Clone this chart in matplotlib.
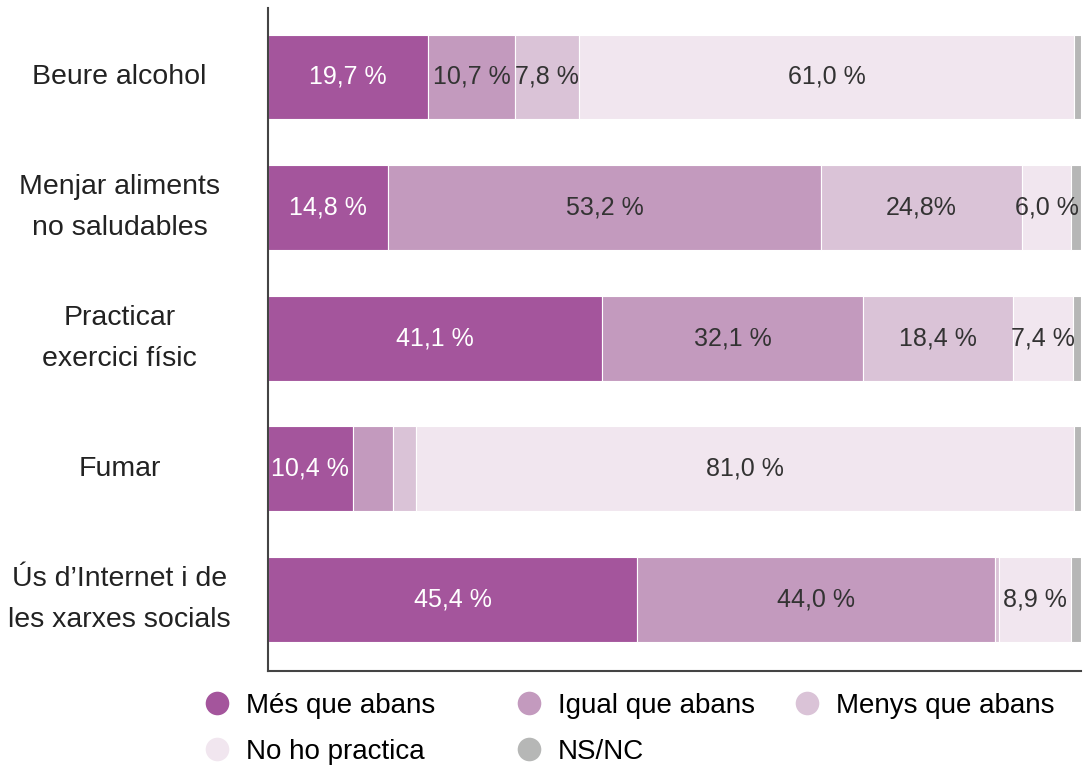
import matplotlib
matplotlib.use('Agg')
import matplotlib.pyplot as plt
from matplotlib.lines import Line2D

plt.rcParams['font.family'] = ['Liberation Sans', 'DejaVu Sans']

# Categories (top to bottom)
categories = ['Beure alcohol', 'Menjar aliments\nno saludables', 'Practicar\nexercici físic',
              'Fumar', 'Ús d\u2019Internet i de\nles xarxes socials']

# Percentages per answer
mes = [19.7, 14.8, 41.1, 10.4, 45.4]
igual = [10.7, 53.2, 32.1, 5.0, 44.0]
menys = [7.8, 24.8, 18.4, 2.8, 0.5]
no_practica = [61.0, 6.0, 7.4, 81.0, 8.9]
nsnc = [0.8, 1.2, 1.0, 0.8, 1.2]

# Text written inside each segment ('' = no label)
mes_labels = ['19,7 %', '14,8 %', '41,1 %', '10,4 %', '45,4 %']
igual_labels = ['10,7 %', '53,2 %', '32,1 %', '', '44,0 %']
menys_labels = ['7,8 %', '24,8%', '18,4 %', '', '']
no_labels = ['61,0 %', '6,0 %', '7,4 %', '81,0 %', '8,9 %']
nsnc_labels = ['', '', '', '', '']

series_names = ['Més que abans', 'Igual que abans', 'Menys que abans', 'No ho practica', 'NS/NC']
colors = ['#a4559c', '#c39abe', '#dac3d7', '#f1e6ef', '#b6b7b6']
text_colors = ['white', '#333333', '#333333', '#333333', '#333333']

series = [mes, igual, menys, no_practica, nsnc]
series_labels = [mes_labels, igual_labels, menys_labels, no_labels, nsnc_labels]

fig = plt.figure(figsize=(10.84, 7.68), dpi=100)
ax = fig.add_axes([268 / 1084, 1 - 671 / 768, (1081 - 268) / 1084, 663 / 768])

y = list(range(len(categories)))
left = [0.0] * len(categories)
for vals, labs, col, tcol in zip(series, series_labels, colors, text_colors):
    ax.barh(y, vals, left=left, height=0.65, color=col, edgecolor='white', linewidth=0.8)
    for i, (v, lab) in enumerate(zip(vals, labs)):
        if lab:
            ax.text(left[i] + v / 2, i, lab, ha='center', va='center',
                    fontsize=18, color=tcol)
    left = [l + v for l, v in zip(left, vals)]

ax.set_xlim(0, 100)
ax.set_ylim(4.547, -0.528)
ax.set_xticks([])
ax.set_yticks(y)
ax.set_yticklabels(categories, fontsize=20.5, color='#222222', linespacing=1.75)
for t in ax.get_yticklabels():
    t.set_horizontalalignment('center')
    t.set_verticalalignment('center')
ax.tick_params(axis='y', length=0, pad=107)

for s in ['top', 'right']:
    ax.spines[s].set_visible(False)
for s in ['left', 'bottom']:
    ax.spines[s].set_color('#444444')
    ax.spines[s].set_linewidth(1.5)

# Legend in three columns: (Més, No ho practica), (Igual, NS/NC), (Menys)
handles = [Line2D([], [], marker='o', linestyle='none', markersize=17,
                  markerfacecolor=c, markeredgecolor='none') for c in colors]
columns = [([0, 3], 203), ([1, 4], 515), ([2], 793)]
for idx, x0 in columns:
    fig.legend([handles[i] for i in idx], [series_names[i] for i in idx],
               loc='upper left', bbox_to_anchor=(x0 / 1084, 1 - 693 / 768),
               frameon=False, fontsize=20, handlelength=1.0,
               handletextpad=0.55, labelspacing=0.72,
               borderaxespad=0, borderpad=0)

fig.savefig('out.png', dpi=100)
